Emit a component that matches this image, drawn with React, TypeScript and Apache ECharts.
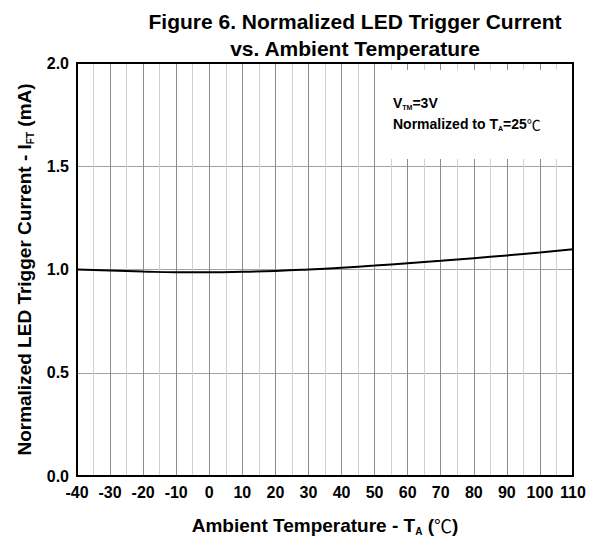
import React, { useEffect, useRef } from "react";
import * as echarts from "echarts";

const temps = [-40, -30, -20, -10, 0, 10, 20, 30, 40, 50, 60, 70, 80, 90, 100, 110];
const currents = [1.0, 0.995, 0.99, 0.987, 0.987, 0.989, 0.993, 1.0, 1.009, 1.019, 1.03, 1.042, 1.055, 1.068, 1.082, 1.098];
const titleText = "Figure 6. Normalized LED Trigger Current\nvs. Ambient Temperature";

const FONT = "Liberation Sans, Arial, sans-serif";
const CJK = "Noto Sans CJK SC, sans-serif";

export default function App() {
  const ref = useRef<HTMLDivElement>(null);
  useEffect(() => {
    const chart = echarts.init(ref.current!, null, { renderer: "svg" });
    const data = temps.map((t, i) => [t, currents[i]]);
    const sub = { fontSize: 10, fontWeight: "bold", padding: [12, 0, 0, 0], fontFamily: FONT, color: "#000" };
    const deg = { fontSize: 18, fontWeight: "normal", fontFamily: CJK, color: "#000" };
    chart.setOption({
      animation: false,
      backgroundColor: "#fff",
      textStyle: { fontFamily: FONT },
      title: {
        text: titleText,
        left: 350,
        top: 3,
        textAlign: "center",
        textStyle: { fontSize: 21, fontWeight: "bold", lineHeight: 27, color: "#000", fontFamily: FONT },
      },
      grid: {
        left: 77,
        right: 24,
        top: 63,
        bottom: 63.5,
        show: true,
        borderColor: "#000",
        borderWidth: 2,
        backgroundColor: "transparent",
        z: 10,
      },
      xAxis: {
        type: "value",
        min: -40,
        max: 110,
        interval: 10,
        name: "Ambient Temperature - T{s|A} ({c|℃})",
        nameLocation: "middle",
        nameGap: 38,
        nameTextStyle: {
          fontSize: 19,
          fontWeight: "bold",
          color: "#000",
          fontFamily: FONT,
          rich: { s: sub, c: deg },
        },
        axisLine: { show: true, onZero: false, lineStyle: { color: "#000", width: 2 } },
        axisTick: { show: false },
        minorTick: { show: false, splitNumber: 2 },
        axisLabel: { fontSize: 16, fontWeight: "bold", color: "#000", margin: 8, fontFamily: FONT },
        splitLine: { show: true, lineStyle: { color: "#8c8c8c", width: 1 } },
        minorSplitLine: { show: true, lineStyle: { color: "#d0d0d0", width: 1 } },
      },
      yAxis: {
        type: "value",
        min: 0,
        max: 2,
        interval: 0.5,
        name: "Normalized LED Trigger Current - I{s|FT} (mA)",
        nameLocation: "middle",
        nameGap: 40,
        nameTextStyle: {
          fontSize: 19,
          fontWeight: "bold",
          color: "#000",
          fontFamily: FONT,
          rich: { s: sub },
        },
        axisLine: { show: true, onZero: false, lineStyle: { color: "#000", width: 2 } },
        axisTick: { show: false },
        axisLabel: {
          fontSize: 16,
          fontWeight: "bold",
          color: "#000",
          margin: 8,
          fontFamily: FONT,
          formatter: (v: number) => v.toFixed(1),
        },
        splitLine: { show: true, lineStyle: { color: "#a0a0a0", width: 1 } },
      },
      graphic: [
        {
          type: "rect",
          left: 381,
          top: 70,
          shape: { width: 190, height: 89 },
          style: { fill: "#fff" },
          z: 5,
        },
        {
          type: "text",
          left: 393,
          top: 92,
          z: 6,
          style: {
            text: "V{s|TM}=3V\nNormalized to T{s|A}=25{c|℃}",
            fontSize: 14,
            fontWeight: "bold",
            fill: "#000",
            fontFamily: FONT,
            lineHeight: 21,
            rich: {
              s: { fontSize: 7, fontWeight: "bold", padding: [9, 0, 0, 0], fontFamily: FONT, fill: "#000" },
              c: { fontSize: 14, fontWeight: "normal", fontFamily: CJK, fill: "#000" },
            },
          },
        },
      ],
      series: [
        {
          type: "line",
          data,
          smooth: true,
          symbol: "none",
          lineStyle: { color: "#000", width: 2 },
          z: 8,
        },
      ],
    });
    return () => chart.dispose();
  }, []);
  return <div ref={ref} style={{ position: "absolute", left: 0, top: 0, width: 597, height: 541 }} />;
}
